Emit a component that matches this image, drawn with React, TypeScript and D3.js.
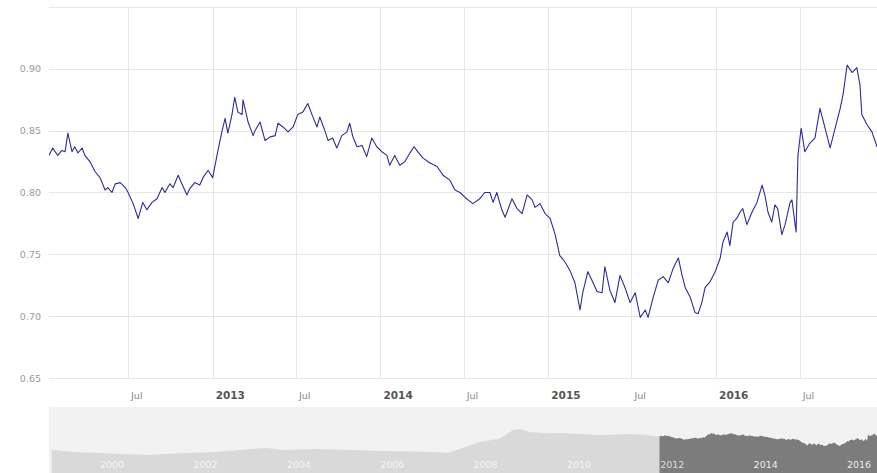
import React from "react";
import * as d3 from "d3";

const W = 877;
const H = 473;

const dates = [
  "2012-01-11","2012-01-19","2012-01-30","2012-02-08","2012-02-15","2012-02-21","2012-03-01","2012-03-07","2012-03-14","2012-03-23",
  "2012-03-29","2012-04-09","2012-04-20","2012-05-01","2012-05-12","2012-05-18","2012-05-27","2012-06-03","2012-06-14","2012-06-25",
  "2012-07-01","2012-07-12","2012-07-23","2012-08-02","2012-08-11","2012-08-22","2012-09-02","2012-09-13","2012-09-19","2012-09-30",
  "2012-10-07","2012-10-18","2012-10-26","2012-11-06","2012-11-12","2012-11-23","2012-12-04","2012-12-11","2012-12-22","2013-01-01",
  "2013-01-12","2013-01-21","2013-01-28","2013-02-03","2013-02-12","2013-02-18","2013-02-25","2013-03-06","2013-03-08","2013-03-19",
  "2013-03-30","2013-04-03","2013-04-14","2013-04-25","2013-05-06","2013-05-17","2013-05-23","2013-06-03","2013-06-14","2013-06-25",
  "2013-07-05","2013-07-16","2013-07-27","2013-08-05","2013-08-16","2013-08-22","2013-09-02","2013-09-09","2013-09-19","2013-09-28",
  "2013-10-09","2013-10-20","2013-10-26","2013-11-02","2013-11-11","2013-11-22","2013-12-02","2013-12-13","2013-12-24","2014-01-04",
  "2014-01-15","2014-01-21","2014-02-01","2014-02-12","2014-02-23","2014-03-06","2014-03-15","2014-03-23","2014-04-03","2014-04-18",
  "2014-05-04","2014-05-17","2014-06-01","2014-06-12","2014-06-23","2014-07-04","2014-07-21","2014-08-05","2014-08-16","2014-08-27",
  "2014-09-03","2014-09-11","2014-09-22","2014-09-29","2014-10-14","2014-10-25","2014-11-05","2014-11-16","2014-11-27","2014-12-03",
  "2014-12-14","2014-12-25","2015-01-05","2015-01-16","2015-01-26","2015-02-06","2015-02-17","2015-02-28","2015-03-11","2015-03-17",
  "2015-03-28","2015-04-06","2015-04-17","2015-04-28","2015-05-04","2015-05-15","2015-05-26","2015-06-06","2015-06-17","2015-06-28",
  "2015-07-09","2015-07-20","2015-07-31","2015-08-06","2015-08-17","2015-08-28","2015-09-08","2015-09-19","2015-09-30","2015-10-11",
  "2015-10-19","2015-10-26","2015-11-06","2015-11-16","2015-11-23","2015-12-01","2015-12-08","2015-12-19","2015-12-30","2016-01-10",
  "2016-01-16","2016-01-25","2016-01-31","2016-02-07","2016-02-15","2016-02-22","2016-02-28","2016-03-08","2016-03-19","2016-03-30",
  "2016-04-10","2016-04-16","2016-04-23","2016-05-01","2016-05-08","2016-05-14","2016-05-23","2016-05-30","2016-06-10","2016-06-14",
  "2016-06-23","2016-06-27","2016-07-04","2016-07-12","2016-07-23","2016-08-03","2016-08-14","2016-08-25","2016-09-05","2016-09-16",
  "2016-09-27","2016-10-03","2016-10-12","2016-10-23","2016-11-02","2016-11-09","2016-11-13","2016-11-24","2016-12-05","2016-12-16",
];

const values = [
  0.830,0.836,0.830,0.834,0.833,0.848,0.833,0.837,0.832,0.836,
  0.830,0.825,0.817,0.812,0.802,0.804,0.800,0.807,0.808,0.804,
  0.800,0.791,0.779,0.792,0.786,0.792,0.795,0.804,0.800,0.807,
  0.804,0.814,0.807,0.798,0.803,0.808,0.806,0.812,0.818,0.812,
  0.833,0.849,0.860,0.848,0.863,0.877,0.865,0.863,0.875,0.857,
  0.846,0.850,0.857,0.842,0.845,0.846,0.856,0.853,0.849,0.853,
  0.863,0.865,0.872,0.863,0.853,0.861,0.850,0.842,0.844,0.836,
  0.846,0.849,0.856,0.845,0.837,0.838,0.829,0.844,0.837,0.833,
  0.830,0.822,0.830,0.822,0.825,0.832,0.837,0.833,0.828,0.824,
  0.821,0.814,0.810,0.802,0.800,0.796,0.791,0.795,0.800,0.800,
  0.792,0.800,0.786,0.780,0.795,0.787,0.783,0.798,0.794,0.788,
  0.791,0.783,0.779,0.766,0.749,0.744,0.737,0.727,0.705,0.719,
  0.736,0.729,0.720,0.719,0.740,0.721,0.711,0.733,0.723,0.711,
  0.719,0.699,0.705,0.699,0.715,0.729,0.732,0.727,0.739,0.747,
  0.733,0.723,0.715,0.703,0.702,0.711,0.723,0.728,0.736,0.747,
  0.760,0.768,0.757,0.776,0.779,0.784,0.787,0.774,0.784,0.792,
  0.806,0.798,0.784,0.776,0.790,0.787,0.766,0.774,0.792,0.794,
  0.768,0.830,0.852,0.833,0.840,0.844,0.868,0.852,0.836,0.852,
  0.868,0.879,0.903,0.897,0.901,0.887,0.863,0.855,0.849,0.837,
];

// navigator history (before the selected range)
const navDates = [
  "1999-01-04","1999-07-05","2000-01-15","2000-07-31","2001-02-10","2001-10-27","2002-07-19","2003-04-06","2003-08-15","2003-12-17",
  "2004-09-09","2005-05-27","2006-02-06","2007-03-03","2007-07-01","2007-10-27","2008-03-08","2008-08-12","2008-11-22","2009-01-15",
  "2009-04-01","2009-08-07","2009-12-16","2010-04-27","2010-09-09","2011-01-12","2011-05-23","2011-09-17","2011-12-06",
];
const navValues = [
  0.647,0.620,0.607,0.590,0.580,0.607,0.620,0.660,0.673,0.647,
  0.660,0.647,0.633,0.620,0.607,0.673,0.753,0.800,0.913,0.927,
  0.887,0.870,0.873,0.860,0.847,0.850,0.860,0.850,0.830,
];

const yTicks = [0.65, 0.7, 0.75, 0.8, 0.85, 0.9];
const yTopGrid = 0.95;
const xTickDates = ["2012-07-01","2013-01-01","2013-07-01","2014-01-01","2014-07-01","2015-01-01","2015-07-01","2016-01-01","2016-07-01"];
const xTickLabels = ["Jul","2013","Jul","2014","Jul","2015","Jul","2016","Jul"];
const navTickYears = ["2000","2002","2004","2006","2008","2010","2012","2014","2016"];

const FONT = "'DejaVu Sans', Verdana, sans-serif";

export default function App() {
  const parse = d3.utcParse("%Y-%m-%d");
  const main = dates.map((d, i) => ({ date: parse(d) as Date, v: values[i] }));
  const hist = navDates.map((d, i) => ({ date: parse(d) as Date, v: navValues[i] }));
  const all = hist.concat(main);

  const plotL = 49, plotR = 877, plotT = 7, plotB = 378;
  const x = d3.scaleUtc().domain([parse("2012-01-11") as Date, parse("2016-12-16") as Date]).range([plotL, plotR]);
  const y = d3.scaleLinear().domain([0.65, 0.95]).range([plotB, plotT]);

  const navT = 407, navB = 473;
  const xn = d3.scaleUtc().domain([parse("1998-12-14") as Date, parse("2016-09-08") as Date]).range([plotL, plotR]);
  const yn = d3.scaleLinear().domain([0.34, 1.22]).range([navB, navT]);

  const line = d3.line<{ date: Date; v: number }>().x(d => x(d.date)).y(d => y(d.v));
  const area = d3.area<{ date: Date; v: number }>().x(d => xn(d.date)).y0(navB).y1(d => yn(d.v));
  const selStart = xn(x.domain()[0]);

  return (
    <svg width={W} height={H} style={{ position: "absolute", left: 0, top: 0, background: "#fff" }} fontFamily={FONT}>
      <defs>
        <clipPath id="plotClip"><rect x={plotL} y={0} width={plotR - plotL} height={plotB + 2} /></clipPath>
        <clipPath id="navUnsel"><rect x={plotL} y={navT} width={selStart - plotL} height={navB - navT} /></clipPath>
        <clipPath id="navSel"><rect x={selStart} y={navT} width={plotR - selStart} height={navB - navT} /></clipPath>
      </defs>
      <rect x={0} y={0} width={W} height={H} fill="#fff" />
      {[...yTicks, yTopGrid].map(t => (
        <line key={"h" + t} x1={plotL} x2={plotR} y1={Math.round(y(t)) + 0.5} y2={Math.round(y(t)) + 0.5} stroke="#e6e6e6" strokeWidth={1} />
      ))}
      {xTickDates.map(d => {
        const xv = Math.round(x(parse(d) as Date)) + 0.5;
        return <line key={"v" + d} x1={xv} x2={xv} y1={plotT} y2={plotB} stroke="#e6e6e6" strokeWidth={1} />;
      })}
      {yTicks.map(t => (
        <text key={"yl" + t} x={41} y={y(t) + 3.5} textAnchor="end" fontSize={9.5} fill="#999">{t.toFixed(2)}</text>
      ))}
      {xTickDates.map((d, i) => {
        const isYear = xTickLabels[i] !== "Jul";
        return (
          <text key={"xl" + d} x={x(parse(d) as Date) + 3} y={399} fontSize={isYear ? 10.5 : 9.5}
            fontWeight={isYear ? "bold" : "normal"} fill={isYear ? "#555" : "#888"}>{xTickLabels[i]}</text>
        );
      })}
      <path d={line(main) || ""} fill="none" stroke="#2e2e8c" strokeWidth={1.1} strokeLinejoin="round" clipPath="url(#plotClip)" />
      <rect x={plotL} y={navT} width={plotR - plotL} height={navB - navT} fill="#f2f2f2" />
      <path d={area(all) || ""} fill="#d9d9d9" clipPath="url(#navUnsel)" />
      <path d={area(all) || ""} fill="#7c7c7c" clipPath="url(#navSel)" />
      {navTickYears.map(yr => {
        const xv = xn(parse(yr + "-01-01") as Date);
        const sel = xv >= selStart - 1;
        return (
          <text key={"nl" + yr} x={xv + 2} y={468} fontSize={9.5} fill="#fff" fillOpacity={sel ? 0.9 : 0.75}>{yr}</text>
        );
      })}
    </svg>
  );
}
